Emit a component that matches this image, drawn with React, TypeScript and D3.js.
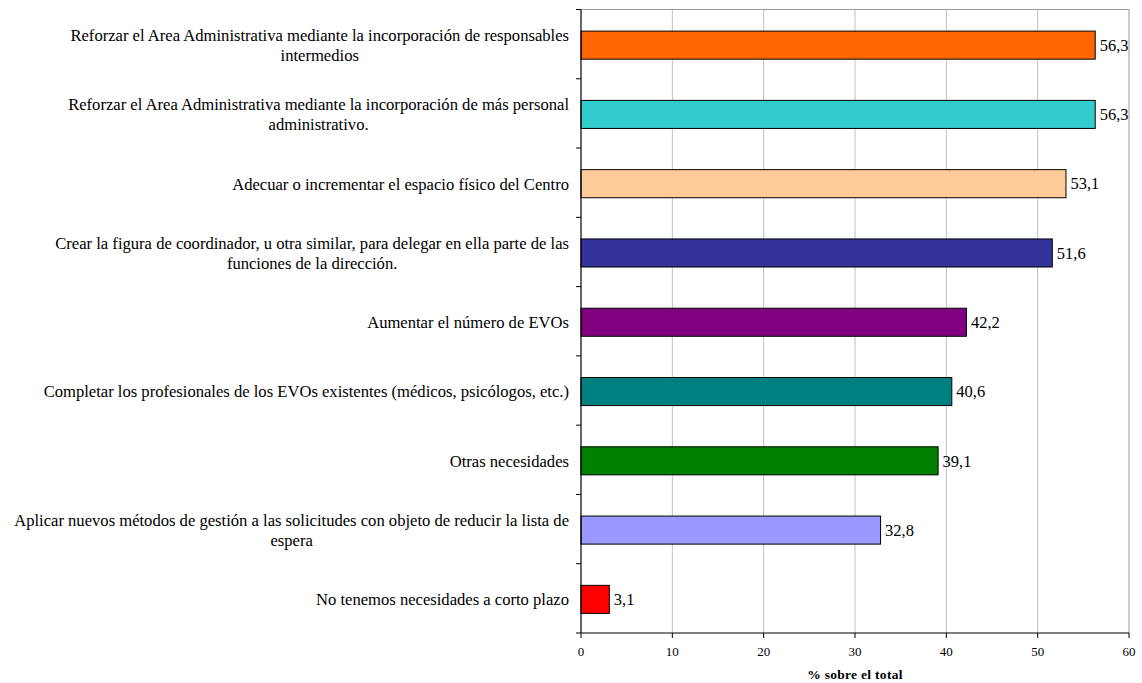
import React, { useEffect, useRef } from "react";
import * as d3 from "d3";

const categories: string[][] = [
  ["Reforzar el Area Administrativa mediante la incorporación de responsables", "intermedios"],
  ["Reforzar el Area Administrativa mediante la incorporación de más personal", "administrativo."],
  ["Adecuar o incrementar el espacio físico del Centro"],
  ["Crear la figura de coordinador, u otra similar, para delegar en ella parte de las", "funciones de la dirección."],
  ["Aumentar el número de EVOs"],
  ["Completar los profesionales de los EVOs existentes (médicos, psicólogos, etc.)"],
  ["Otras necesidades"],
  ["Aplicar nuevos métodos de gestión a las solicitudes con objeto de reducir la lista de", "espera"],
  ["No tenemos necesidades a corto plazo"],
];
const values: number[] = [56.3, 56.3, 53.1, 51.6, 42.2, 40.6, 39.1, 32.8, 3.1];
const colors: string[] = ["#FF6600", "#33CCCC", "#FFCC99", "#333399", "#800080", "#008080", "#008000", "#9999FF", "#FF0000"];
const xTicks: number[] = [0, 10, 20, 30, 40, 50, 60];
const xTitle = "% sobre el total";

const W = 1142;
const H = 683;
const left = 581;
const right = 1129;
const top = 9.5;
const bottom = 633;
const FONT = "'Liberation Serif', 'Times New Roman', 'DejaVu Serif', serif";

export default function App() {
  const ref = useRef<SVGSVGElement | null>(null);

  useEffect(() => {
    const svg = d3.select(ref.current);
    svg.selectAll("*").remove();

    const x = d3.scaleLinear().domain([0, 60]).range([left, right]);
    const ids = categories.map((_, i) => String(i));
    const y = d3.scaleBand<string>().domain(ids).range([top, bottom]).padding(0);
    const step = y.step();
    const barH = step * 0.405;

    svg.append("rect").attr("x", left).attr("y", top).attr("width", right - left).attr("height", bottom - top).attr("fill", "#ffffff");

    // gridlines
    svg.append("g").selectAll("line").data(xTicks.filter((t) => t > 0 && t < 60)).join("line")
      .attr("x1", (d) => x(d)).attr("x2", (d) => x(d)).attr("y1", top).attr("y2", bottom)
      .attr("stroke", "#c0c0c0").attr("stroke-width", 1);

    // top and right border
    svg.append("line").attr("x1", left).attr("x2", right).attr("y1", top).attr("y2", top).attr("stroke", "#9a9a9a").attr("stroke-width", 1);
    svg.append("line").attr("x1", right).attr("x2", right).attr("y1", top).attr("y2", bottom).attr("stroke", "#9a9a9a").attr("stroke-width", 1);

    // bars
    svg.append("g").selectAll("rect").data(values).join("rect")
      .attr("x", x(0))
      .attr("y", (_, i) => (y(String(i)) as number) + step / 2 - barH / 2 + 1)
      .attr("width", (d) => x(d) - x(0))
      .attr("height", barH)
      .attr("fill", (_, i) => colors[i])
      .attr("stroke", "#000").attr("stroke-width", 1);

    // value labels
    svg.append("g").selectAll("text").data(values).join("text")
      .attr("x", (d) => x(d) + 4.5)
      .attr("y", (_, i) => (y(String(i)) as number) + step / 2 + 1)
      .attr("dy", "0.35em")
      .attr("font-family", FONT).attr("font-size", 16.5).attr("fill", "#000")
      .text((d) => d.toFixed(1).replace(".", ","));

    // left axis
    svg.append("line").attr("x1", left).attr("x2", left).attr("y1", top).attr("y2", bottom).attr("stroke", "#000").attr("stroke-width", 1.2);
    const bounds = d3.range(categories.length + 1).map((i) => top + i * step);
    svg.append("g").selectAll("line").data(bounds).join("line")
      .attr("x1", left - 5).attr("x2", left).attr("y1", (d) => d).attr("y2", (d) => d)
      .attr("stroke", "#000").attr("stroke-width", 1);

    // bottom axis
    svg.append("line").attr("x1", left).attr("x2", right).attr("y1", bottom).attr("y2", bottom).attr("stroke", "#000").attr("stroke-width", 1.2);
    svg.append("g").selectAll("line").data(xTicks).join("line")
      .attr("x1", (d) => x(d)).attr("x2", (d) => x(d)).attr("y1", bottom).attr("y2", bottom + 5)
      .attr("stroke", "#000").attr("stroke-width", 1);
    svg.append("g").selectAll("text").data(xTicks).join("text")
      .attr("x", (d) => x(d)).attr("y", bottom + 18)
      .attr("dy", "0.35em").attr("text-anchor", "middle")
      .attr("font-family", FONT).attr("font-size", 13).attr("fill", "#000")
      .text((d) => String(d));

    svg.append("text")
      .attr("x", (left + right) / 2).attr("y", bottom + 41).attr("dy", "0.35em")
      .attr("text-anchor", "middle").attr("font-family", FONT).attr("font-size", 13.5)
      .attr("font-weight", "bold").attr("fill", "#000").attr("letter-spacing", 0.3)
      .text(xTitle);

    // category labels
    const labelRight = 569;
    const lineH = 20.5;
    categories.forEach((lines, i) => {
      const cy = (y(String(i)) as number) + step / 2 + 1;
      const g = svg.append("g");
      const texts = lines.map((ln) =>
        g.append("text").attr("font-family", FONT).attr("font-size", 16.6).attr("fill", "#000").attr("text-anchor", "middle").text(ln)
      );
      const widths = texts.map((t) => (t.node() as SVGTextElement).getComputedTextLength());
      const maxW = Math.max(...widths);
      const cx = labelRight - maxW / 2;
      const n = lines.length;
      texts.forEach((t, k) => {
        t.attr("x", cx).attr("y", cy + (k - (n - 1) / 2) * lineH).attr("dy", "0.35em");
      });
    });
  }, []);

  return (
    <svg
      ref={ref}
      width={W}
      height={H}
      style={{ position: "absolute", left: 0, top: 0, display: "block", background: "#fff" }}
    />
  );
}
